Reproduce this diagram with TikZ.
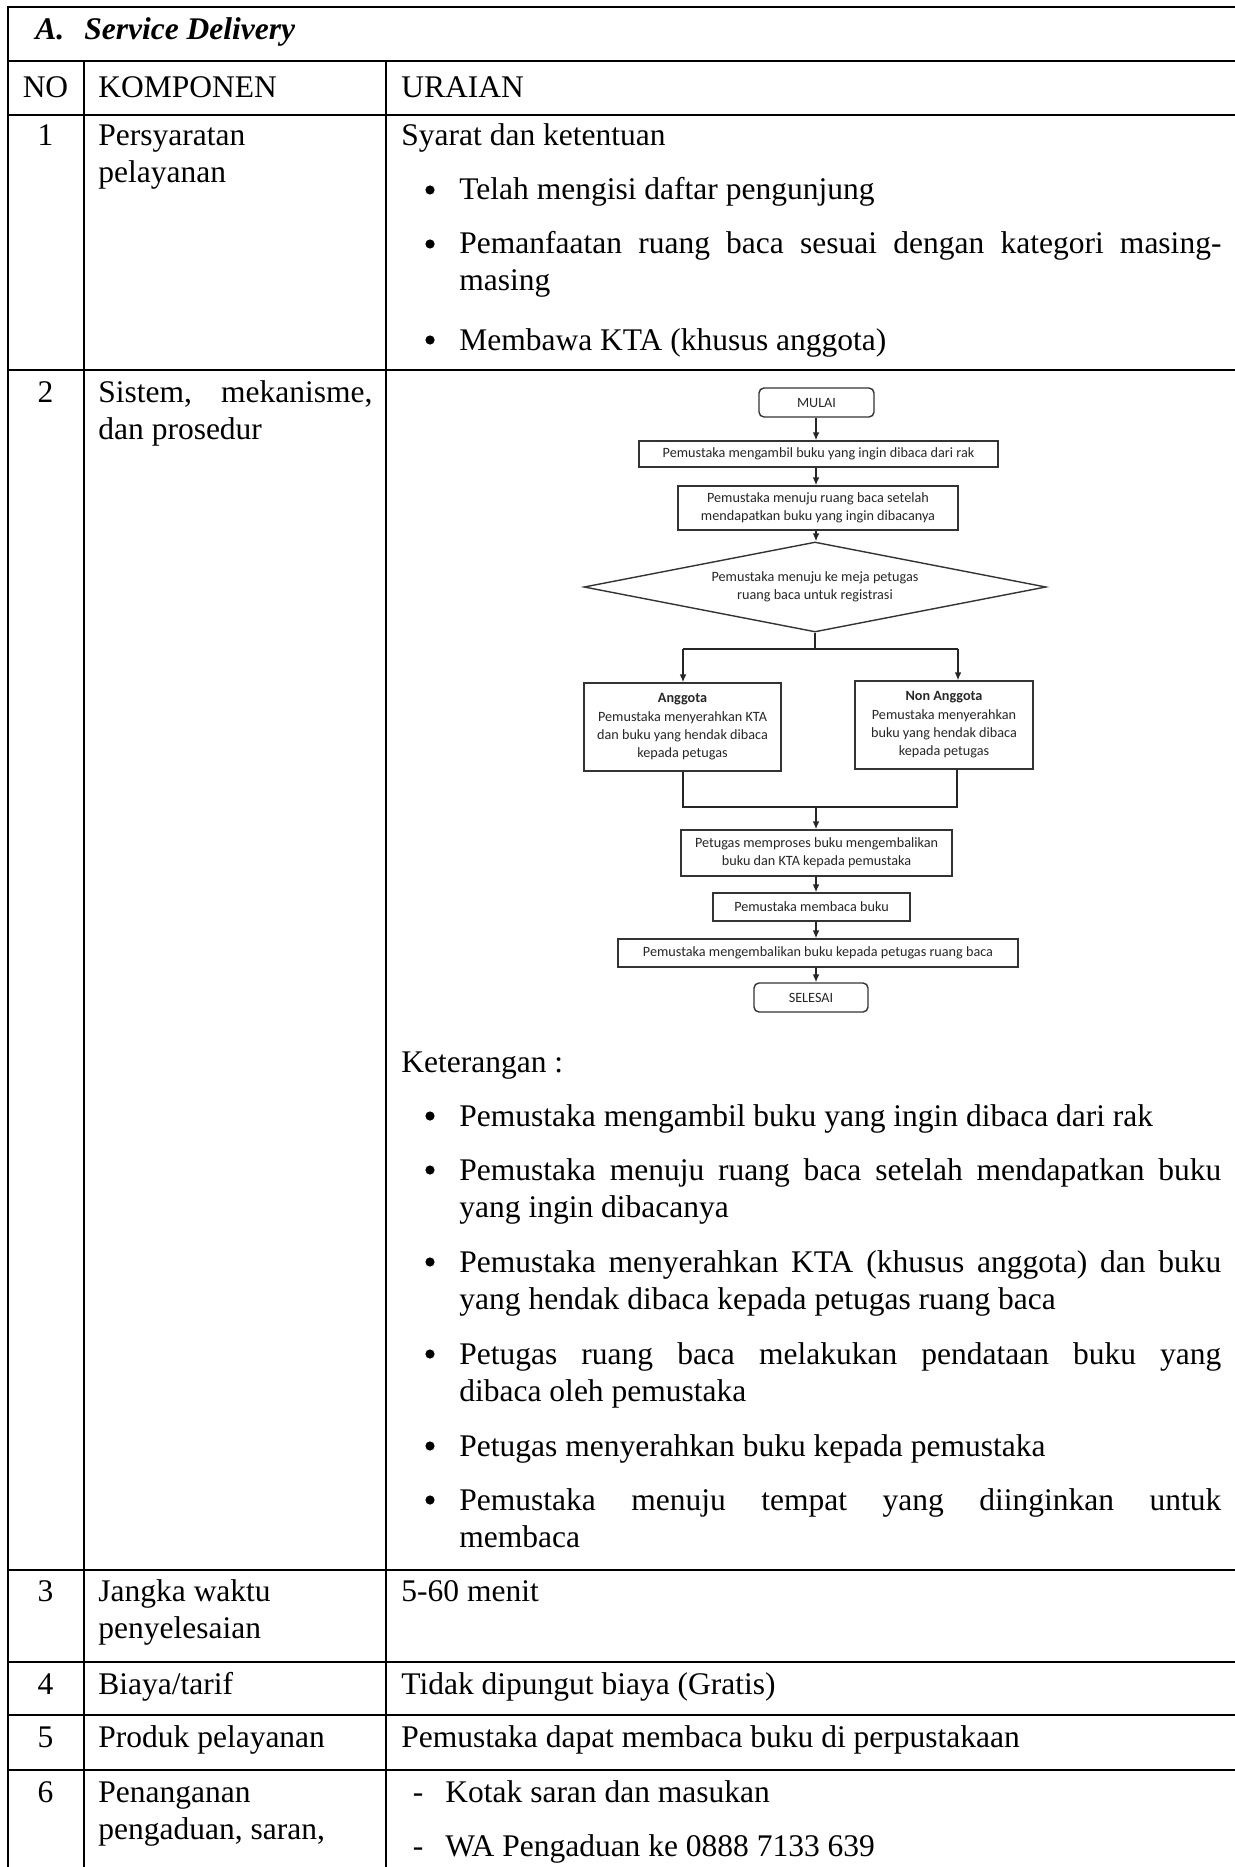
\documentclass[tikz,border=0pt]{standalone}
\usepackage{fontspec}
\setmainfont{Liberation Serif}
\newfontfamily\flowfont{Carlito}
\usetikzlibrary{arrows.meta,shapes.geometric}

\begin{document}
\begin{tikzpicture}[x=0.5pt,y=-0.5pt,
  rule/.style={line width=1pt},
  body/.style={inner sep=0pt, font=\fontsize{15.75}{18.75}\selectfont},
  txt/.style={body, anchor=base west},
  ctxt/.style={body, anchor=base},
  dot/.style={circle, fill=black, inner sep=0pt, minimum size=4.6pt},
  fbox/.style={draw=black!80, line width=0.7pt, inner sep=0pt, align=center,
    font=\flowfont\fontsize{7.1}{9.15}\selectfont, text=black!85},
  flow/.style={draw=black!85, line width=0.7pt},
  farrow/.style={flow, -{Latex[length=4pt,width=3.4pt]}},
]
\useasboundingbox (0,0) rectangle (1235,1867);

% ---------- table rules ----------
\foreach \yy in {7,61,115,370,1570,1662,1715,1770}
  \draw[rule] (7,\yy) -- (1235,\yy);
\draw[rule] (7.5,6.5) -- (7.5,1867);
\draw[rule] (84,61) -- (84,1867);
\draw[rule] (386,61) -- (386,1867);

% ---------- heading ----------
\node[txt, font=\fontsize{15.75}{18.75}\selectfont\bfseries\itshape] (secA) at (35,40) {A.};
\node[txt, font=\fontsize{15.75}{18.75}\selectfont\bfseries\itshape] (secT) at (84,40) {Service Delivery};
\node[ctxt] (hNo) at (45.5,98) {NO};
\node[txt] (hKomp) at (98,98) {KOMPONEN};
\node[txt] (hUr) at (401,98) {URAIAN};

% ---------- row 1 ----------
\node[ctxt] (n1) at (45.5,146) {1};
\node[txt] (k1a) at (98,146) {Persyaratan};
\node[txt] (k1b) at (98,183) {pelayanan};
\node[txt] (u1) at (401,146) {Syarat dan ketentuan};
\node[dot] (b1a) at (430,190) {};
\node[txt] (t1a) at (459,200) {Telah mengisi daftar pengunjung};
\node[dot] (b1b) at (430,244) {};
\node[txt] (t1b) at (459,254) {\makebox[381pt][s]{Pemanfaatan ruang baca sesuai dengan kategori masing-}};
\node[txt] (t1c) at (459,291) {masing};
\node[dot] (b1c) at (430,340) {};
\node[txt] (t1d) at (459,350) {Membawa KTA (khusus anggota)};

% ---------- row 2 ----------
\node[ctxt] (n2) at (45.5,402) {2};
\node[txt] (k2a) at (98,402) {\makebox[137pt][s]{Sistem, mekanisme,}};
\node[txt] (k2b) at (98,439) {dan prosedur};

% flowchart
\coordinate (spine) at (816,0);
\node[fbox, rounded corners=2.5pt, minimum width=57.5pt, minimum height=14.5pt] (mulai) at (816.5,402.5) {MULAI};
\node[fbox, minimum width=179.5pt, minimum height=13pt] (ambil) at (818.5,454) {Pemustaka mengambil buku yang ingin dibaca dari rak};
\node[fbox, minimum width=140pt, minimum height=22pt] (menuju) at (818,508) {Pemustaka menuju ruang baca setelah\\mendapatkan buku yang ingin dibacanya};
\node[fbox, diamond, aspect=5.1, minimum width=231pt, minimum height=45pt] (meja) at (815,587) {Pemustaka menuju ke meja petugas\\ruang baca untuk registrasi};
\node[fbox, minimum width=98.5pt, minimum height=44pt] (anggota) at (682.5,727) {\textbf{Anggota}\\Pemustaka menyerahkan KTA\\dan buku yang hendak dibaca\\kepada petugas};
\node[fbox, minimum width=89pt, minimum height=44pt] (non) at (944,725) {\textbf{Non Anggota}\\Pemustaka menyerahkan\\buku yang hendak dibaca\\kepada petugas};
\node[fbox, minimum width=135.5pt, minimum height=23pt] (proses) at (816.5,853) {Petugas memproses buku mengembalikan\\buku dan KTA kepada pemustaka};
\node[fbox, minimum width=98.5pt, minimum height=14pt] (baca) at (811.5,907) {Pemustaka membaca buku};
\node[fbox, minimum width=200pt, minimum height=14pt] (kembali) at (818,953) {Pemustaka mengembalikan buku kepada petugas ruang baca};
\node[fbox, rounded corners=2.5pt, minimum width=57pt, minimum height=14.5pt] (selesai) at (811,997.5) {SELESAI};

\draw[farrow] (mulai.south -| spine) -- (ambil.north -| spine);
\draw[farrow] (ambil.south -| spine) -- (menuju.north -| spine);
\draw[farrow] (menuju.south -| spine) -- (meja.north -| spine);

\coordinate (splitL) at (683,649);
\coordinate (splitR) at (958,649);
\draw[flow] (meja.south) -- (meja.south |- splitL);
\draw[flow] (splitL) -- (splitR);
\draw[farrow] (splitL) -- (anggota.north -| splitL);
\draw[farrow] (splitR) -- (non.north -| splitR);

\coordinate (mergeL) at (683,807);
\coordinate (mergeR) at (957,807);
\draw[flow] (anggota.south -| mergeL) -- (mergeL) -- (mergeR) -- (non.south -| mergeR);
\draw[farrow] (mergeL -| spine) -- (proses.north -| spine);
\draw[farrow] (proses.south -| spine) -- (baca.north -| spine);
\draw[farrow] (baca.south -| spine) -- (kembali.north -| spine);
\draw[farrow] (kembali.south -| spine) -- (selesai.north -| spine);

% explanation list
\node[txt] (ket) at (401,1072) {Keterangan :};
\node[dot] (b2a) at (430,1116) {};
\node[txt] (t2a) at (459,1126) {Pemustaka mengambil buku yang ingin dibaca dari rak};
\node[dot] (b2b) at (430,1170) {};
\node[txt] (t2b) at (459,1180) {\makebox[381pt][s]{Pemustaka menuju ruang baca setelah mendapatkan buku}};
\node[txt] (t2c) at (459,1217) {yang ingin dibacanya};
\node[dot] (b2c) at (430,1262) {};
\node[txt] (t2d) at (459,1272) {\makebox[381pt][s]{Pemustaka menyerahkan KTA (khusus anggota) dan buku}};
\node[txt] (t2e) at (459,1309) {yang hendak dibaca kepada petugas ruang baca};
\node[dot] (b2d) at (430,1354) {};
\node[txt] (t2f) at (459,1364) {\makebox[381pt][s]{Petugas ruang baca melakukan pendataan buku yang}};
\node[txt] (t2g) at (459,1401) {dibaca oleh pemustaka};
\node[dot] (b2e) at (430,1446) {};
\node[txt] (t2h) at (459,1456) {Petugas menyerahkan buku kepada pemustaka};
\node[dot] (b2f) at (430,1500) {};
\node[txt] (t2i) at (459,1510) {\makebox[381pt][s]{Pemustaka menuju tempat yang diinginkan untuk}};
\node[txt] (t2j) at (459,1547) {membaca};

% ---------- row 3 ----------
\node[ctxt] (n3) at (45.5,1601) {3};
\node[txt] (k3a) at (98,1601) {Jangka waktu};
\node[txt] (k3b) at (98,1638) {penyelesaian};
\node[txt] (u3) at (401,1601) {5-60 menit};

% ---------- row 4 ----------
\node[ctxt] (n4) at (45.5,1694) {4};
\node[txt] (k4) at (98,1694) {Biaya/tarif};
\node[txt] (u4) at (401,1694) {Tidak dipungut biaya (Gratis)};

% ---------- row 5 ----------
\node[ctxt] (n5) at (45.5,1747) {5};
\node[txt] (k5) at (98,1747) {Produk pelayanan};
\node[txt] (u5) at (401,1747) {Pemustaka dapat membaca buku di perpustakaan};

% ---------- row 6 ----------
\node[ctxt] (n6) at (45.5,1802) {6};
\node[txt] (k6a) at (98,1802) {Penanganan};
\node[txt] (k6b) at (98,1839) {pengaduan, saran,};
\node[ctxt] (d6a) at (418,1802) {-};
\node[txt] (u6a) at (445,1802) {Kotak saran dan masukan};
\node[ctxt] (d6b) at (418,1856) {-};
\node[txt] (u6b) at (445,1856) {WA Pengaduan ke 0888 7133 639};
\end{tikzpicture}
\end{document}
